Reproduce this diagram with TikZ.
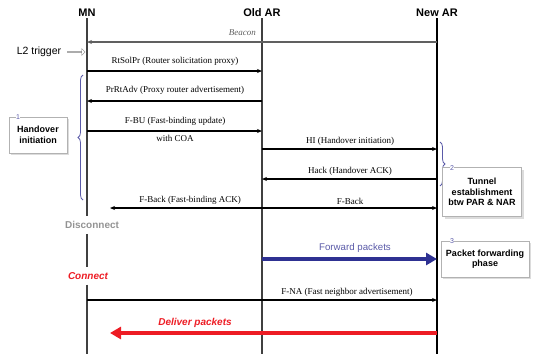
\documentclass[tikz,border=0pt]{standalone}
\usepackage{fontspec}
\setmainfont{Liberation Serif}
\setsansfont{Liberation Sans}
\usetikzlibrary{arrows.meta, shadows, shapes.arrows, decorations.pathreplacing}
\tikzset{>=stealth}
\definecolor{navy}{HTML}{2E3192}
\definecolor{lnavy}{HTML}{5A5AA8}
\definecolor{bred}{HTML}{ED1C24}
\tikzstyle{entity} = [font=\sffamily\bfseries\fontsize{11}{13}\selectfont, inner sep=1pt]
\tikzstyle{lifeline} = [line width=1.3pt, draw=black!75]
\tikzstyle{msg} = [-{Stealth[length=5pt, width=4pt]}, line width=1.2pt]
\tikzstyle{msgtext} = [font=\fontsize{9}{10}\selectfont, inner sep=1pt]
\tikzstyle{phase} = [rectangle, draw=gray!60, fill=white, align=center, font=\sffamily\bfseries\fontsize{9}{10.5}\selectfont, drop shadow={shadow xshift=2pt, shadow yshift=-2pt, fill=gray!55}]
\tikzstyle{phasenum} = [fill=white, inner sep=0.5pt, text=lnavy, font=\sffamily\fontsize{7}{7}\selectfont]
\tikzstyle{bracket} = [decorate, decoration={brace, amplitude=5pt}, draw=lnavy, line width=0.8pt]

\begin{document}
\begin{tikzpicture}[x=1pt, y=-1pt]
\useasboundingbox (0,0) rectangle (535,354);
% entities
\node (mn) [entity] at (87,13) {MN};
\node (oar) [entity] at (262,13) {Old AR};
\node (nar) [entity] at (437,13) {New AR};
\coordinate (bot) at (0,354);

% message levels
\coordinate (beacon) at (0,42);
\coordinate (rts) at (0,71);
\coordinate (prr) at (0,101);
\coordinate (fbu) at (0,131);
\coordinate (hi) at (0,149);
\coordinate (hack) at (0,179);
\coordinate (fback) at (0,208);
\coordinate (fwd) at (0,259);
\coordinate (fna) at (0,300);
\coordinate (dlv) at (0,333);
\coordinate (fbackend) at (110,208);
\coordinate (dlvend) at (110,333);

% MN state
\node (disc) [font=\sffamily\bfseries\fontsize{10}{12}\selectfont, text=gray!85, inner sep=5pt] at (92,225) {Disconnect};
\node (conn) [font=\sffamily\bfseries\itshape\fontsize{10}{12}\selectfont, text=bred, inner sep=5pt] at (88,276) {Connect};

% lifelines
\draw [lifeline] (mn) -- (mn |- disc.north);
\draw [lifeline] (mn |- disc.south) -- (mn |- conn.north);
\draw [lifeline] (mn |- conn.south) -- (mn |- bot);
\draw [lifeline] (oar) -- (oar |- bot);
\draw [lifeline, draw=black] (nar) -- (nar |- bot);

% trigger
\node (l2) [font=\sffamily\fontsize{10.5}{12}\selectfont, inner sep=1pt] at (39,52) {L2 trigger};
\node (trig) [single arrow, draw=gray, fill=white, minimum height=18pt, minimum width=7pt, single arrow head extend=1.5pt, inner sep=0pt] at (76,52) {};

% messages
\draw [msg, draw=gray!75!black, line width=1.5pt] (nar |- beacon) -- (mn |- beacon);
\node (beacontxt) [msgtext, anchor=east, text=gray!75!black, font=\itshape\fontsize{9}{10}\selectfont] at (257,33) {Beacon};

\draw [msg] (mn |- rts) -- (oar |- rts);
\node (rtstxt) [msgtext] at (175,61) {RtSolPr (Router solicitation proxy)};

\draw [msg] (oar |- prr) -- (mn |- prr);
\node (prrtxt) [msgtext] at (175,90) {PrRtAdv (Proxy router advertisement)};

\draw [msg] (mn |- fbu) -- (oar |- fbu);
\node (fbutxt) [msgtext] at (175,121) {F-BU (Fast-binding update)};
\node (coatxt) [msgtext] at (175,138) {with COA};

\draw [msg] (oar |- hi) -- (nar |- hi);
\node (hitxt) [msgtext] at (350,141) {HI (Handover initiation)};

\draw [msg] (nar |- hack) -- (oar |- hack);
\node (hacktxt) [msgtext] at (350,171) {Hack (Handover ACK)};

\draw [msg] (oar |- fback) -- (fbackend);
\node (fbacktxt) [msgtext] at (190,200) {F-Back (Fast-binding ACK)};

\draw [msg] (oar |- fback) -- (nar |- fback);
\node (fback2txt) [msgtext] at (350,201) {F-Back};

\draw [-{Triangle[length=11pt, width=12pt]}, line width=3.5pt, draw=navy] (oar |- fwd) -- (nar |- fwd);
\node (fwdtxt) [font=\sffamily\fontsize{9.7}{11}\selectfont, text=lnavy] at (355,248) {Forward packets};

\draw [msg] (mn |- fna) -- (nar |- fna);
\node (fnatxt) [msgtext] at (347,292) {F-NA (Fast neighbor advertisement)};

\draw [-{Triangle[length=11pt, width=12pt]}, line width=3.5pt, draw=bred] (nar |- dlv) -- (dlvend);
\node (dlvtxt) [font=\sffamily\bfseries\itshape\fontsize{10}{12}\selectfont, text=bred] at (195,323) {Deliver packets};

% phases
\draw [bracket] (83,200) -- (83,75);
\node (ph1) [phase, minimum width=58pt, minimum height=36pt] at (38,135) {Handover\\initiation};
\node (n1) [phasenum] at (18,117) {1};

\draw [bracket] (440,142) -- (440,186);
\node (ph2) [phase, minimum width=79pt, minimum height=49pt] at (482,192) {Tunnel\\establishment\\btw PAR \& NAR};
\node (n2) [phasenum] at (452,168) {2};

\node (ph3) [phase, minimum width=88pt, minimum height=36pt] at (485,259) {Packet forwarding\\phase};
\node (n3) [phasenum] at (452,241) {3};
\end{tikzpicture}
\end{document}
